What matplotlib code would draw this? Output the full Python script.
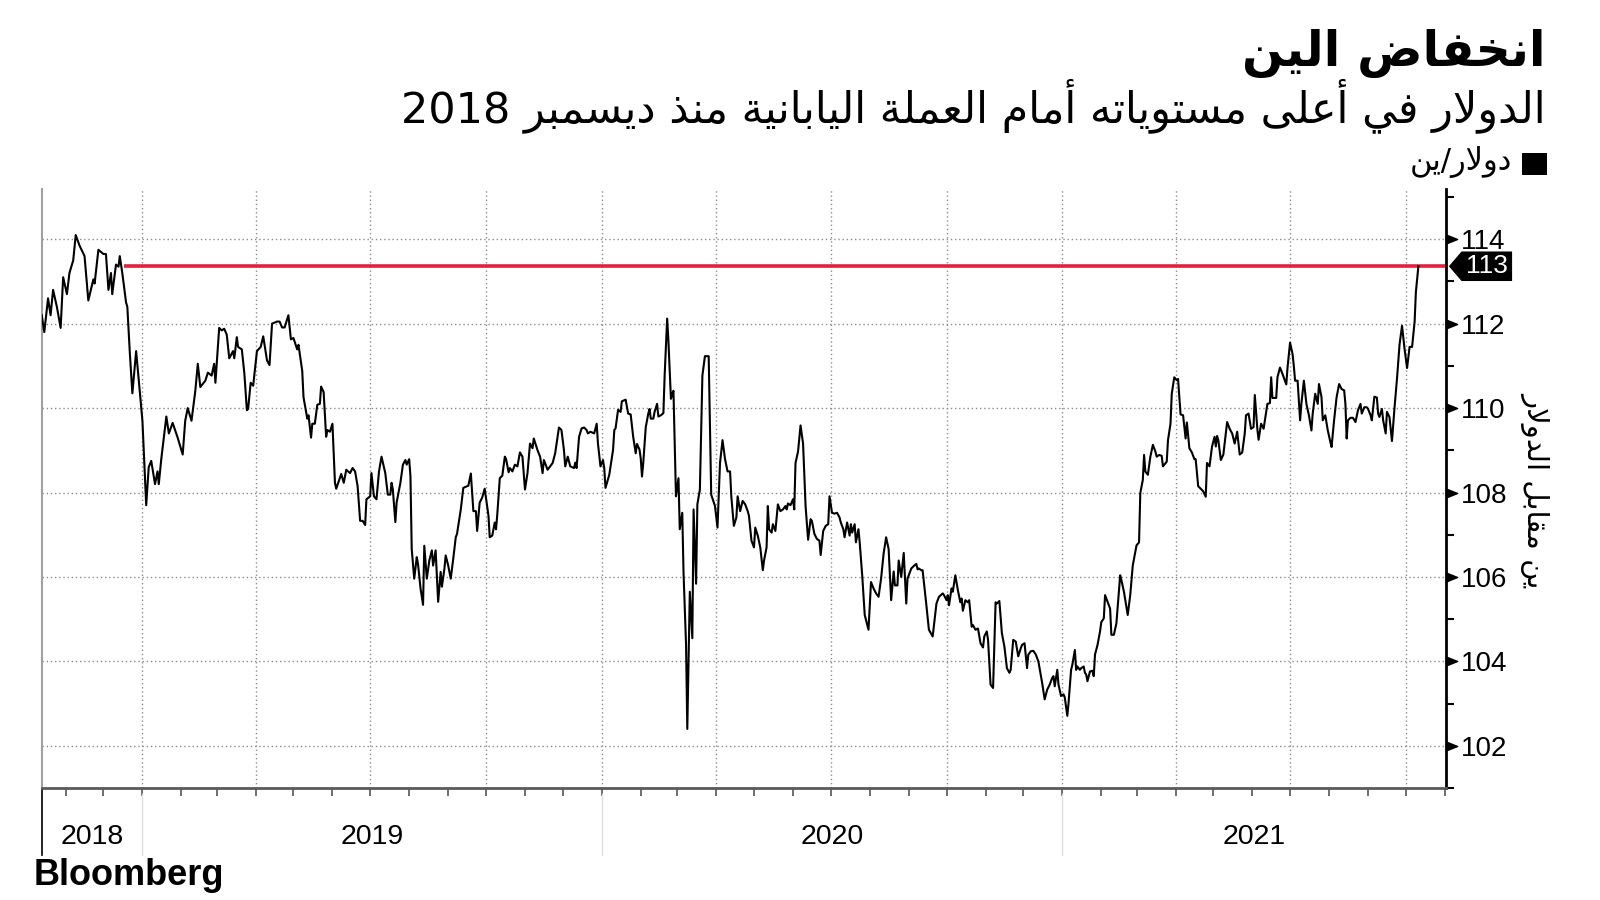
import re

import numpy as np
import matplotlib
matplotlib.use("Agg")
import matplotlib.pyplot as plt
import matplotlib.dates as mdates
import pandas as pd
from matplotlib import font_manager
from matplotlib.path import Path
from matplotlib.patches import Polygon, Rectangle
from matplotlib.ticker import NullFormatter

TITLE = "انخفاض الين"
SUBTITLE = "الدولار في أعلى مستوياته أمام العملة اليابانية منذ ديسمبر 2018"
LEGEND = "دولار/ين"
Y_LABEL = "ين مقابل الدولار"
SOURCE = "Bloomberg"

# USD/JPY, (month-day, level)
usdjpy_2018 = [
    ("10-13", 112.2), ("10-15", 111.8), ("10-18", 112.6), ("10-20", 112.2), ("10-22", 112.8),
    ("10-25", 112.4), ("10-28", 111.9), ("10-30", 113.1), ("11-02", 112.7), ("11-04", 113.2),
    ("11-07", 113.5), ("11-09", 114.1), ("11-12", 113.85), ("11-16", 113.6), ("11-19", 112.55),
    ("11-23", 113.05), ("11-24", 112.95), ("11-27", 113.75), ("12-01", 113.65), ("12-03", 113.65),
    ("12-05", 112.8), ("12-07", 113.2), ("12-08", 112.7), ("12-11", 113.4), ("12-13", 113.35),
    ("12-14", 113.6), ("12-16", 113.2), ("12-19", 112.5), ("12-20", 112.4), ("12-22", 111.3),
    ("12-24", 110.35), ("12-27", 111.35), ("12-30", 110.35),
]
usdjpy_2019 = [
    ("01-01", 109.7), ("01-04", 107.7), ("01-06", 108.6), ("01-08", 108.75), ("01-11", 108.2),
    ("01-13", 108.5), ("01-14", 108.2), ("01-16", 108.8), ("01-20", 109.8), ("01-22", 109.4),
    ("01-25", 109.65), ("01-29", 109.3), ("02-02", 108.9), ("02-04", 109.7), ("02-06", 110.0),
    ("02-09", 109.7), ("02-12", 110.4), ("02-14", 111.05), ("02-16", 110.5), ("02-20", 110.65),
    ("02-22", 110.84), ("02-25", 110.77), ("02-27", 111.05), ("02-28", 110.6), ("03-03", 111.9),
    ("03-05", 111.84), ("03-07", 111.88), ("03-09", 111.74), ("03-11", 111.18), ("03-14", 111.35),
    ("03-15", 111.18), ("03-17", 111.68), ("03-18", 111.45), ("03-21", 111.39), ("03-23", 110.82),
    ("03-25", 109.95), ("03-26", 109.98), ("03-28", 110.6), ("03-30", 110.53), ("04-02", 111.35),
    ("04-05", 111.45), ("04-07", 111.7), ("04-10", 111.13), ("04-12", 111.02), ("04-14", 112.0),
    ("04-18", 112.05), ("04-20", 112.05), ("04-22", 111.91), ("04-24", 111.91), ("04-27", 112.2),
    ("04-29", 111.63), ("05-01", 111.66), ("05-04", 111.39), ("05-05", 111.5), ("05-08", 110.88),
    ("05-09", 110.26), ("05-12", 109.75), ("05-13", 109.83), ("05-15", 109.3), ("05-16", 109.63),
    ("05-18", 109.63), ("05-20", 110.08), ("05-22", 110.1), ("05-23", 110.51), ("05-25", 110.38),
    ("05-27", 109.32), ("05-28", 109.48), ("05-30", 109.44), ("06-01", 109.63), ("06-03", 108.23),
    ("06-04", 108.09), ("06-08", 108.44), ("06-10", 108.23), ("06-12", 108.54), ("06-15", 108.46),
    ("06-17", 108.58), ("06-19", 108.5), ("06-21", 108.15), ("06-23", 107.33), ("06-25", 107.33),
    ("06-27", 107.23), ("06-28", 107.84), ("07-01", 107.91), ("07-02", 108.46), ("07-04", 107.91),
    ("07-06", 107.84), ("07-08", 108.5), ("07-10", 108.85), ("07-13", 108.46), ("07-15", 107.95),
    ("07-17", 107.95), ("07-18", 108.23), ("07-19", 108.07), ("07-21", 107.3), ("07-22", 107.76),
    ("07-25", 108.23), ("07-27", 108.66), ("07-29", 108.77), ("07-30", 108.66), ("08-01", 108.79),
    ("08-02", 108.38), ("08-03", 106.66), ("08-05", 105.96), ("08-07", 106.47), ("08-08", 106.31),
    ("08-10", 105.73), ("08-12", 105.34), ("08-13", 106.74), ("08-15", 105.96), ("08-17", 106.39),
    ("08-19", 106.63), ("08-20", 106.27), ("08-22", 106.63), ("08-24", 105.41), ("08-26", 106.12),
    ("08-27", 105.77), ("08-29", 106.2), ("08-30", 106.51), ("09-01", 106.27), ("09-03", 105.96),
    ("09-05", 106.43), ("09-07", 106.94), ("09-08", 107.02), ("09-11", 107.6), ("09-13", 108.11),
    ("09-16", 108.15), ("09-17", 108.16), ("09-19", 108.45), ("09-21", 107.56), ("09-23", 107.56),
    ("09-24", 107.09), ("09-26", 107.76), ("09-28", 107.88), ("09-30", 108.09), ("10-03", 107.45),
    ("10-04", 106.94), ("10-06", 106.98), ("10-08", 107.29), ("10-09", 107.13), ("10-10", 107.48),
    ("10-12", 108.34), ("10-14", 108.4), ("10-16", 108.85), ("10-17", 108.79), ("10-19", 108.48),
    ("10-20", 108.58), ("10-22", 108.5), ("10-24", 108.66), ("10-26", 108.62), ("10-28", 108.95),
    ("10-30", 108.85), ("11-01", 108.07), ("11-03", 108.46), ("11-05", 109.16), ("11-07", 109.05),
    ("11-08", 109.28), ("11-11", 109.0), ("11-13", 108.85), ("11-15", 108.46), ("11-16", 108.77),
    ("11-19", 108.54), ("11-21", 108.62), ("11-23", 108.7), ("11-25", 108.93), ("11-28", 109.54),
    ("11-30", 109.48), ("12-02", 109.0), ("12-03", 108.62), ("12-05", 108.85), ("12-07", 108.62),
    ("12-10", 108.58), ("12-11", 108.71), ("12-12", 108.58), ("12-14", 109.32), ("12-16", 109.52),
    ("12-18", 109.54), ("12-20", 109.48), ("12-21", 109.4), ("12-23", 109.44), ("12-26", 109.4),
    ("12-28", 109.63), ("12-29", 109.16), ("12-31", 108.62),
]
usdjpy_2020 = [
    ("01-02", 108.77), ("01-03", 108.58), ("01-04", 108.11), ("01-07", 108.42), ("01-10", 109.01),
    ("01-11", 109.48), ("01-12", 109.52), ("01-14", 109.96), ("01-16", 109.91), ("01-17", 110.16),
    ("01-20", 110.2), ("01-22", 109.87), ("01-24", 109.85), ("01-26", 109.32), ("01-28", 108.93),
    ("01-29", 109.15), ("01-31", 109.02), ("02-01", 108.81), ("02-02", 108.38), ("02-03", 108.7),
    ("02-05", 109.55), ("02-07", 109.87), ("02-08", 109.98), ("02-09", 109.75), ("02-11", 109.75),
    ("02-12", 109.91), ("02-14", 110.1), ("02-15", 109.8), ("02-17", 109.83), ("02-19", 109.88),
    ("02-20", 110.77), ("02-22", 112.12), ("02-23", 111.59), ("02-25", 110.22), ("02-26", 110.34),
    ("02-27", 110.41), ("02-29", 107.91), ("03-02", 108.34), ("03-03", 107.13), ("03-05", 107.52),
    ("03-06", 106.12), ("03-08", 104.4), ("03-09", 102.4), ("03-11", 105.65), ("03-13", 104.55),
    ("03-14", 107.6), ("03-16", 105.84), ("03-17", 107.72), ("03-19", 108.07), ("03-21", 110.77),
    ("03-23", 111.23), ("03-26", 111.23), ("03-28", 107.95), ("03-31", 107.68), ("04-02", 107.17),
    ("04-04", 108.7), ("04-06", 109.24), ("04-08", 108.79), ("04-10", 108.5), ("04-12", 108.5),
    ("04-13", 107.9), ("04-15", 107.21), ("04-17", 107.41), ("04-18", 107.91), ("04-20", 107.56),
    ("04-22", 107.8), ("04-24", 107.72), ("04-26", 107.56), ("04-27", 107.45), ("04-29", 106.86),
    ("05-01", 106.7), ("05-02", 107.17), ("05-04", 106.98), ("05-06", 106.7), ("05-08", 106.16),
    ("05-09", 106.39), ("05-11", 106.7), ("05-12", 107.68), ("05-13", 107.13), ("05-15", 107.05),
    ("05-16", 107.25), ("05-18", 107.09), ("05-20", 107.72), ("05-22", 107.56), ("05-24", 107.6),
    ("05-26", 107.68), ("05-27", 107.6), ("05-28", 107.74), ("05-30", 107.7), ("06-01", 107.84),
    ("06-02", 107.6), ("06-03", 108.7), ("06-05", 108.97), ("06-07", 109.59), ("06-09", 109.16),
    ("06-11", 107.68), ("06-13", 106.88), ("06-15", 107.37), ("06-16", 107.33), ("06-18", 107.02),
    ("06-20", 106.9), ("06-22", 106.86), ("06-23", 106.52), ("06-25", 107.09), ("06-27", 107.21),
    ("06-29", 107.25), ("06-30", 107.91), ("07-02", 107.52), ("07-04", 107.5), ("07-06", 107.52),
    ("07-08", 107.41), ("07-09", 107.29), ("07-11", 107.13), ("07-12", 106.94), ("07-14", 107.29),
    ("07-16", 106.98), ("07-17", 107.25), ("07-18", 107.05), ("07-20", 107.25), ("07-21", 106.82),
    ("07-23", 107.13), ("07-24", 106.82), ("07-26", 106.04), ("07-28", 105.1), ("07-31", 104.75),
    ("08-02", 105.88), ("08-04", 105.73), ("08-06", 105.61), ("08-08", 105.53), ("08-10", 105.96),
    ("08-12", 106.55), ("08-14", 106.94), ("08-16", 106.66), ("08-18", 105.45), ("08-20", 106.13),
    ("08-21", 105.8), ("08-23", 105.8), ("08-24", 106.39), ("08-26", 106.0), ("08-28", 106.57),
    ("08-30", 105.37), ("08-31", 105.96), ("09-03", 106.2), ("09-05", 106.26), ("09-07", 106.31),
    ("09-08", 106.18), ("09-09", 106.2), ("09-11", 106.16), ("09-12", 106.16), ("09-15", 105.33),
    ("09-17", 104.75), ("09-20", 104.59), ("09-23", 105.37), ("09-25", 105.53), ("09-28", 105.61),
    ("09-29", 105.57), ("10-01", 105.45), ("10-02", 105.57), ("10-03", 105.33), ("10-05", 105.73),
    ("10-06", 105.65), ("10-08", 106.04), ("10-10", 105.69), ("10-12", 105.4), ("10-13", 105.49),
    ("10-14", 105.2), ("10-16", 105.45), ("10-18", 105.4), ("10-19", 105.45), ("10-21", 104.82),
    ("10-22", 104.86), ("10-24", 104.75), ("10-26", 104.78), ("10-28", 104.43), ("10-30", 104.33),
    ("10-31", 104.59), ("11-02", 104.71), ("11-03", 104.51), ("11-05", 103.45), ("11-07", 103.37),
    ("11-09", 105.4), ("11-10", 105.37), ("11-12", 105.43), ("11-14", 104.67), ("11-16", 104.35),
    ("11-18", 103.84), ("11-20", 103.73), ("11-21", 103.8), ("11-23", 104.51), ("11-25", 104.47),
    ("11-27", 104.12), ("11-29", 104.31), ("11-30", 104.39), ("12-02", 104.43), ("12-04", 103.84),
    ("12-05", 104.16), ("12-07", 104.24), ("12-09", 104.25), ("12-11", 104.16), ("12-13", 104.0),
    ("12-15", 103.65), ("12-16", 103.49), ("12-18", 103.1), ("12-20", 103.33), ("12-22", 103.45),
    ("12-24", 103.61), ("12-25", 103.65), ("12-26", 103.41), ("12-28", 103.8), ("12-29", 103.45),
    ("12-31", 103.18),
]
usdjpy_2021 = [
    ("01-02", 103.22), ("01-03", 103.14), ("01-05", 102.71), ("01-06", 103.02), ("01-08", 103.8),
    ("01-09", 103.92), ("01-11", 104.27), ("01-12", 103.8), ("01-13", 103.88), ("01-15", 103.8),
    ("01-16", 103.84), ("01-18", 103.88), ("01-19", 103.73), ("01-20", 103.69), ("01-21", 103.53),
    ("01-23", 103.76), ("01-25", 103.78), ("01-26", 103.65), ("01-27", 104.16), ("01-29", 104.39),
    ("01-31", 104.71), ("02-01", 104.93), ("02-03", 105.02), ("02-04", 105.57), ("02-06", 105.41),
    ("02-08", 105.25), ("02-09", 104.63), ("02-11", 104.63), ("02-13", 104.9), ("02-16", 106.04),
    ("02-17", 105.92), ("02-19", 105.65), ("02-22", 105.1), ("02-24", 105.57), ("02-26", 106.27),
    ("03-01", 106.75), ("03-03", 106.82), ("03-04", 107.99), ("03-06", 108.3), ("03-07", 108.89),
    ("03-08", 108.5), ("03-10", 108.42), ("03-12", 108.85), ("03-14", 109.13), ("03-16", 108.97),
    ("03-17", 108.85), ("03-19", 108.89), ("03-21", 108.87), ("03-22", 108.62), ("03-25", 108.73),
    ("03-26", 109.24), ("03-28", 109.63), ("03-29", 110.34), ("03-31", 110.73), ("04-02", 110.66),
    ("04-03", 110.69), ("04-05", 109.85), ("04-07", 109.83), ("04-09", 109.28), ("04-10", 109.66),
    ("04-12", 109.05), ("04-14", 108.95), ("04-16", 108.79), ("04-17", 108.79), ("04-19", 108.15),
    ("04-21", 108.09), ("04-23", 108.03), ("04-25", 107.9), ("04-26", 108.7), ("04-28", 108.62),
    ("04-30", 109.09), ("05-02", 109.32), ("05-03", 109.09), ("05-04", 109.34), ("05-05", 109.24),
    ("05-07", 108.77), ("05-09", 108.9), ("05-12", 109.67), ("05-14", 109.51), ("05-16", 109.4),
    ("05-18", 109.16), ("05-20", 109.44), ("05-22", 108.9), ("05-24", 108.95), ("05-26", 109.4),
    ("05-27", 109.83), ("05-29", 109.87), ("05-31", 109.51), ("06-02", 109.55), ("06-03", 110.31),
    ("06-05", 109.51), ("06-06", 109.25), ("06-08", 109.63), ("06-10", 109.51), ("06-11", 109.71),
    ("06-13", 110.1), ("06-15", 110.12), ("06-16", 110.73), ("06-17", 110.24), ("06-20", 110.24),
    ("06-21", 110.73), ("06-23", 110.96), ("06-25", 110.81), ("06-28", 110.56), ("06-29", 110.96),
    ("07-01", 111.55), ("07-03", 111.28), ("07-04", 111.0), ("07-05", 110.65), ("07-07", 110.65),
    ("07-09", 109.71), ("07-10", 110.1), ("07-12", 110.65), ("07-14", 110.1), ("07-16", 109.83),
    ("07-18", 109.47), ("07-19", 109.87), ("07-21", 110.34), ("07-23", 110.1), ("07-24", 110.57),
    ("07-26", 110.26), ("07-27", 109.71), ("07-29", 109.83), ("07-31", 109.47), ("08-02", 109.2),
    ("08-03", 109.08), ("08-05", 109.71), ("08-07", 110.26), ("08-09", 110.57), ("08-11", 110.45),
    ("08-13", 110.42), ("08-14", 110.1), ("08-15", 109.28), ("08-16", 109.71), ("08-18", 109.77),
    ("08-20", 109.77), ("08-22", 109.67), ("08-24", 109.95), ("08-26", 110.1), ("08-27", 109.87),
    ("08-29", 110.02), ("08-31", 110.02), ("09-01", 109.98), ("09-03", 109.83), ("09-04", 109.71),
    ("09-06", 110.27), ("09-08", 110.25), ("09-09", 109.87), ("09-10", 109.79), ("09-12", 109.98),
    ("09-13", 109.71), ("09-15", 109.4), ("09-16", 109.91), ("09-18", 109.79), ("09-20", 109.22),
    ("09-22", 110.0), ("09-24", 110.7), ("09-26", 111.5), ("09-28", 111.95), ("09-30", 111.4),
    ("10-02", 110.95), ("10-04", 111.45), ("10-06", 111.45), ("10-08", 112.05), ("10-09", 112.75),
    ("10-11", 113.36),
]

LEVEL = 113.36
LEVEL_START = "2018-12-17"
LEVEL_LABEL = "113"

y_ticks = [102, 104, 106, 108, 110, 112, 114]
y_minor = [101, 103, 105, 107, 109, 111, 113, 115]
year_starts = ["2019-01-01", "2020-01-01", "2021-01-01"]
year_labels = ["2018", "2019", "2020", "2021"]
X_START, X_END = "2018-10-13", "2021-11-02"
Y_MIN, Y_MAX = 101.17, 115.19

LINE_COLOR = "#000000"
LEVEL_COLOR = "#e3203f"
GRID_COLOR = "#8c8c8c"

# Arabic presentation forms (matplotlib does no shaping / bidi on its own)
DUAL = {"ب": 0xFE8F, "ت": 0xFE95, "خ": 0xFEA5, "س": 0xFEB1, "ض": 0xFEBD,
        "ع": 0xFEC9, "ف": 0xFED1, "ق": 0xFED5, "ل": 0xFEDD, "م": 0xFEE1,
        "ن": 0xFEE5, "ه": 0xFEE9, "ي": 0xFEF1}
RIGHT = {"ا": 0xFE8D, "أ": 0xFE83, "ة": 0xFE93, "د": 0xFEA9, "ذ": 0xFEAB,
         "ر": 0xFEAD, "و": 0xFEED, "ى": 0xFEEF}
LAM_ALEF = {"ا": 0xFEFB, "أ": 0xFEF7}


def shape(text):
    out = []
    i = 0
    while i < len(text):
        c = text[i]
        joins_prev = i > 0 and text[i - 1] in DUAL
        nxt = text[i + 1] if i + 1 < len(text) else ""
        if c == "ل" and nxt in LAM_ALEF:
            out.append(chr(LAM_ALEF[nxt] + (1 if joins_prev else 0)))
            i += 2
            continue
        if c in DUAL:
            joins_next = nxt in DUAL or nxt in RIGHT
            code = DUAL[c] + {(True, True): 3, (True, False): 1,
                              (False, True): 2, (False, False): 0}[(joins_prev, joins_next)]
            out.append(chr(code))
        elif c in RIGHT:
            out.append(chr(RIGHT[c] + (1 if joins_prev else 0)))
        else:
            out.append(c)
        i += 1
    visual = "".join(reversed(out))
    return re.sub(r"[0-9]+", lambda m: m.group(0)[::-1], visual)


def to_frame(year, pairs):
    return pd.DataFrame({
        "date": pd.to_datetime([f"{year}-{d}" for d, _ in pairs]),
        "usdjpy": [v for _, v in pairs],
    })


series = pd.concat([
    to_frame(2018, usdjpy_2018),
    to_frame(2019, usdjpy_2019),
    to_frame(2020, usdjpy_2020),
    to_frame(2021, usdjpy_2021),
], ignore_index=True)

plt.rcParams["font.family"] = ["DejaVu Sans"]

# the numbers are set in a condensed face; fall back to Arial-like metrics
installed = {f.name for f in font_manager.fontManager.ttflist}
if "Liberation Sans Narrow" in installed:
    NUM_FONT, TICK_SIZE, YEAR_SIZE, FLAG_SIZE = "Liberation Sans Narrow", 22, 23, 22
else:
    NUM_FONT, TICK_SIZE, YEAR_SIZE, FLAG_SIZE = "Liberation Sans", 20, 20.5, 19

fig = plt.figure(figsize=(16, 9), dpi=100)
ax = fig.add_axes([0.0261, 0.1244, 0.8777, 0.6656])

x0, x1 = pd.Timestamp(X_START), pd.Timestamp(X_END)
ax.plot(series["date"], series["usdjpy"], color=LINE_COLOR, lw=1.5, zorder=3)
ax.hlines(LEVEL, pd.Timestamp(LEVEL_START), x1, color=LEVEL_COLOR, lw=2.6, zorder=2)

ax.set_xlim(x0, x1)
ax.set_ylim(Y_MIN, Y_MAX)

# x axis: quarterly grid, monthly ticks, no labels
ax.xaxis.set_major_locator(mdates.MonthLocator(bymonth=[1, 4, 7, 10]))
ax.xaxis.set_minor_locator(mdates.MonthLocator())
ax.xaxis.set_major_formatter(NullFormatter())
ax.tick_params(axis="x", which="both", direction="out", length=6, width=1.2,
               color="#555555", labelbottom=False)

# y axis on the right
ax.yaxis.tick_right()
ax.set_yticks(y_ticks)
ax.set_yticks(y_minor, minor=True)
ax.tick_params(axis="y", which="major", length=0, pad=11, labelsize=TICK_SIZE)
ax.tick_params(axis="y", which="minor", length=6, width=1.5, color="black")
for lab in ax.get_yticklabels():
    lab.set_fontfamily(NUM_FONT)

ax.grid(which="major", axis="both", color=GRID_COLOR, linestyle=(0, (1, 2)), lw=1)

ax.spines["top"].set_visible(False)
ax.spines["right"].set_color("black")
ax.spines["right"].set_linewidth(2)
ax.spines["bottom"].set_color("#5a5a5a")
ax.spines["bottom"].set_linewidth(2)
ax.spines["left"].set_color("#a0a0a0")
ax.spines["left"].set_linewidth(1.5)

# triangular major tick marks on the right axis
tri = Path([(0, -0.4), (1, 0), (0, 0.4), (0, -0.4)],
           [Path.MOVETO, Path.LINETO, Path.LINETO, Path.CLOSEPOLY])
ax.plot(np.ones(len(y_ticks)), y_ticks, transform=ax.get_yaxis_transform(),
        ls="none", marker=tri, ms=16, color="black", clip_on=False)

# current level flag
ytr = ax.get_yaxis_transform()
half = 0.35
flag = Polygon([(1.002, LEVEL), (1.011, LEVEL + half), (1.047, LEVEL + half),
                (1.047, LEVEL - half), (1.011, LEVEL - half)],
               closed=True, transform=ytr, facecolor="black", edgecolor="none",
               clip_on=False, zorder=5)
ax.add_patch(flag)
ax.text(1.029, LEVEL, LEVEL_LABEL, transform=ytr, ha="center", va="center",
        color="white", fontsize=FLAG_SIZE, family=NUM_FONT, zorder=6)

# year bands below the axis
xtr = ax.get_xaxis_transform()
bounds = [x0] + [pd.Timestamp(s) for s in year_starts] + [x1]
for b in bounds[1:-1]:
    ax.plot([b, b], [-0.01, -0.112], transform=xtr, color="#dddddd", lw=1, clip_on=False)
ax.plot([x0, x0], [0, -0.112], transform=xtr, color="black", lw=1.2, clip_on=False)
for lab, a, b in zip(year_labels, bounds[:-1], bounds[1:]):
    ax.text(a + (b - a) / 2, -0.082, lab, transform=xtr, ha="center", va="center",
            fontsize=YEAR_SIZE, family=NUM_FONT)

# header
fig.text(0.966, 0.927, shape(TITLE), ha="right", va="baseline", fontsize=35,
         fontweight="bold")
fig.text(0.966, 0.864, shape(SUBTITLE), ha="right", va="baseline", fontsize=31)
fig.patches.append(Rectangle((0.951, 0.806), 0.016, 0.024, transform=fig.transFigure,
                             facecolor="black", edgecolor="none"))
fig.text(0.945, 0.811, shape(LEGEND), ha="right", va="baseline", fontsize=22)

fig.text(0.96, 0.456, shape(Y_LABEL), rotation=-90, ha="center", va="center",
         fontsize=21)

fig.text(0.021, 0.017, SOURCE, ha="left", va="baseline", fontsize=26,
         fontweight="bold", family="Liberation Sans")

fig.savefig("out.png", dpi=100)
